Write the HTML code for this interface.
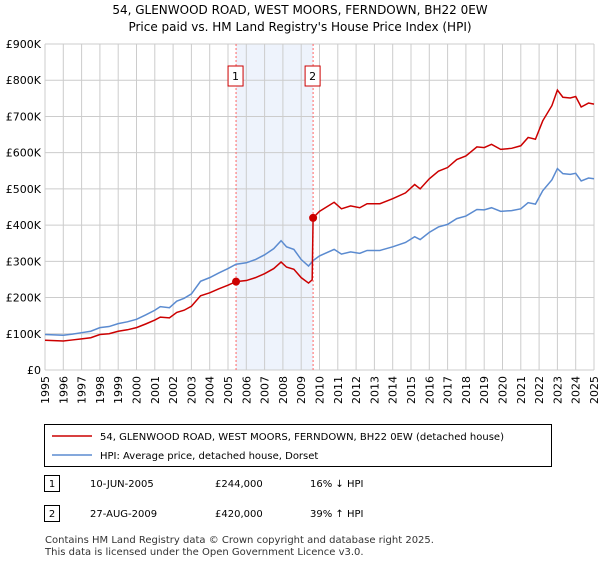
<!DOCTYPE html>
<html><head><meta charset="utf-8"><style>
body{margin:0;background:#fff;font-family:"DejaVu Sans",sans-serif;}
</style></head><body>
<svg width="600" height="560" xmlns="http://www.w3.org/2000/svg" font-family="DejaVu Sans, sans-serif">
<text x="300" y="14" text-anchor="middle" font-size="12">54, GLENWOOD ROAD, WEST MOORS, FERNDOWN, BH22 0EW</text>
<text x="300" y="31" text-anchor="middle" font-size="12">Price paid vs. HM Land Registry's House Price Index (HPI)</text>
<g id="grid"></g><g id="series"></g><g id="axes"></g>
<g>
<rect x="44.5" y="424.5" width="507" height="42" fill="#fff" stroke="#000"/>
<line x1="52" y1="436" x2="92" y2="436" stroke="#cc0000" stroke-width="1.5"/>
<text x="100" y="440" font-size="10">54, GLENWOOD ROAD, WEST MOORS, FERNDOWN, BH22 0EW (detached house)</text>
<line x1="52" y1="455" x2="92" y2="455" stroke="#5b8bd0" stroke-width="1.5"/>
<text x="100" y="459" font-size="10">HPI: Average price, detached house, Dorset</text>
</g>
<g font-size="10">
<rect x="44.5" y="475.5" width="15" height="16" fill="#fff" stroke="#000"/><text x="52" y="487" text-anchor="middle">1</text>
<text x="90" y="487">10-JUN-2005</text><text x="215" y="487">£244,000</text><text x="310" y="487">16% ↓ HPI</text>
<rect x="44.5" y="505.5" width="15" height="16" fill="#fff" stroke="#000"/><text x="52" y="517" text-anchor="middle">2</text>
<text x="90" y="517">27-AUG-2009</text><text x="215" y="517">£420,000</text><text x="310" y="517">39% ↑ HPI</text>
</g>
<text x="45" y="543" font-size="10" fill="#333">Contains HM Land Registry data © Crown copyright and database right 2025.</text>
<text x="45" y="555" font-size="10" fill="#333">This data is licensed under the Open Government Licence v3.0.</text>
</svg>
<script>
const yearTicks=[1995,1996,1997,1998,1999,2000,2001,2002,2003,2004,2005,2006,2007,2008,2009,2010,2011,2012,2013,2014,2015,2016,2017,2018,2019,2020,2021,2022,2023,2024,2025];
const valueTicks=[0,100,200,300,400,500,600,700,800,900];
const valueLabels=["£0","£100K","£200K","£300K","£400K","£500K","£600K","£700K","£800K","£900K"];
const hpiDates=[1995.0,1995.5,1996.0,1996.5,1997.0,1997.5,1998.0,1998.5,1999.0,1999.5,2000.0,2000.5,2001.0,2001.3,2001.8,2002.2,2002.6,2003.0,2003.5,2004.0,2004.5,2005.0,2005.44,2006.0,2006.5,2007.0,2007.5,2007.9,2008.2,2008.6,2009.0,2009.4,2009.65,2010.0,2010.8,2011.2,2011.7,2012.2,2012.6,2013.3,2014.0,2014.7,2015.2,2015.5,2016.0,2016.5,2017.0,2017.5,2018.0,2018.6,2019.0,2019.4,2019.9,2020.5,2021.0,2021.4,2021.8,2022.2,2022.7,2023.0,2023.3,2023.7,2024.0,2024.3,2024.7,2025.0];
const hpiValues=[98,97,96,99,103,107,117,120,128,133,140,152,165,175,172,190,198,210,245,255,268,280,292,296,305,318,335,357,340,333,305,287,302,315,333,320,326,322,330,330,340,352,368,360,380,395,402,418,425,443,442,448,438,440,445,462,458,495,525,556,542,540,543,522,530,528];
const priceDates=[1995.0,1995.5,1996.0,1996.5,1997.0,1997.5,1998.0,1998.5,1999.0,1999.5,2000.0,2000.5,2001.0,2001.3,2001.8,2002.2,2002.6,2003.0,2003.5,2004.0,2004.5,2005.0,2005.44,2006.0,2006.5,2007.0,2007.5,2007.9,2008.2,2008.6,2009.0,2009.4,2009.6,2009.65,2010.0,2010.8,2011.2,2011.7,2012.2,2012.6,2013.3,2014.0,2014.7,2015.2,2015.5,2016.0,2016.5,2017.0,2017.5,2018.0,2018.6,2019.0,2019.4,2019.9,2020.5,2021.0,2021.4,2021.8,2022.2,2022.7,2023.0,2023.3,2023.7,2024.0,2024.3,2024.7,2025.0];
const priceValues=[82,81,80,83,86,89,98,100,107,111,117,127,138,146,144,159,165,176,205,213,224,234,244,247,255,266,280,298,284,278,255,240,249,420,438,463,445,453,448,459,459,473,489,512,500,528,549,559,581,591,616,614,623,609,612,619,642,637,688,730,773,753,751,755,726,737,734];
const saleDates=[2005.44,2009.65];
const saleValues=[244,420];
const saleLabels=["1","2"];
const NS="http://www.w3.org/2000/svg";
const X0=45,X1=594,Y0=370,Y1=44;
const xs=d=>X0+(d-1995)/(2025-1995)*(X1-X0);
const ys=v=>Y0-v/900*(Y0-Y1);
function mk(tag,attrs,parent){const e=document.createElementNS(NS,tag);for(const k in attrs)e.setAttribute(k,attrs[k]);parent.appendChild(e);return e;}
const grid=document.getElementById('grid'),ser=document.getElementById('series'),ax=document.getElementById('axes');
const shade=mk('rect',{x:xs(saleDates[0]),y:Y1,width:xs(saleDates[1])-xs(saleDates[0]),height:Y0-Y1,fill:'#eef3fc'},grid);


yearTicks.forEach(y=>{const l=mk('line',{x1:xs(y),x2:xs(y),y1:Y1,y2:Y0,stroke:'#cccccc'},grid);


const t=mk('text',{x:0,y:0,'font-size':11,'text-anchor':'end',transform:`translate(${xs(y)+4},${Y0+6}) rotate(-90)`},ax);t.textContent=y;

});
valueTicks.forEach((v,i)=>{const l=mk('line',{x1:X0,x2:X1,y1:ys(v),y2:ys(v),stroke:'#cccccc'},grid);


const t=mk('text',{x:X0-4,y:ys(v)+4,'font-size':11,'text-anchor':'end'},ax);t.textContent=valueLabels[i];

});
saleDates.forEach((d,i)=>{const l=mk('line',{x1:xs(d),x2:xs(d),y1:Y1,y2:Y0,stroke:'#ff6666','stroke-dasharray':'2,2'},grid);


const r=mk('rect',{x:xs(d)-8,y:66,width:15,height:20,fill:'#fff',stroke:'#cc0000'},ax);


const t=mk('text',{x:xs(d)-0.5,y:80,'font-size':11,'text-anchor':'middle'},ax);t.textContent=saleLabels[i];

});
const hp=mk('polyline',{points:hpiDates.map((d,i)=>xs(d)+','+ys(hpiValues[i])).join(' '),fill:'none',stroke:'#5b8bd0','stroke-width':1.5},ser);


const pp=mk('polyline',{points:priceDates.map((d,i)=>xs(d)+','+ys(priceValues[i])).join(' '),fill:'none',stroke:'#cc0000','stroke-width':1.5},ser);


saleDates.forEach((d,i)=>{const c=mk('circle',{cx:xs(d),cy:ys(saleValues[i]),r:4,fill:'#cc0000'},ser);

});
</script>
</body></html>
